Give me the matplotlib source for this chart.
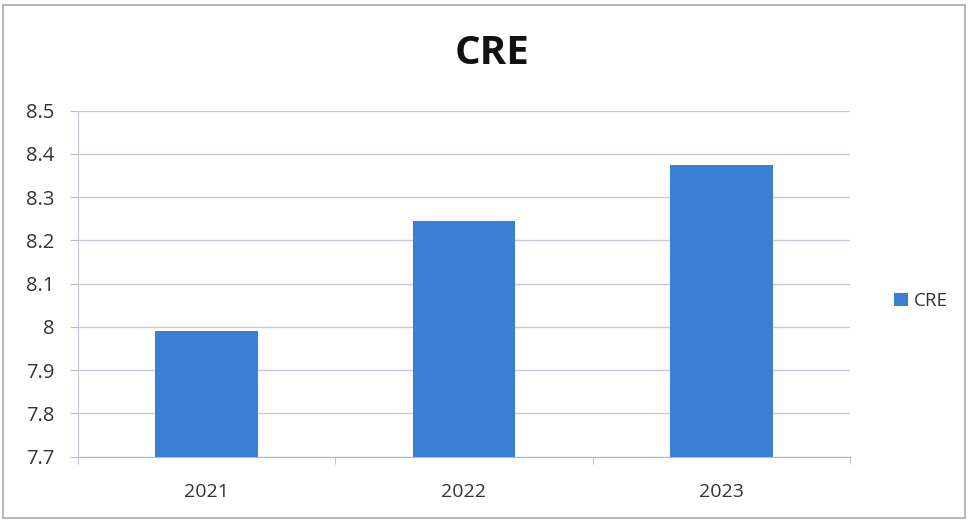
import matplotlib.pyplot as plt
from matplotlib.patches import Rectangle
import numpy as np

categories = ["2021", "2022", "2023"]
cre_values = [7.99, 8.245, 8.375]
series_name = "CRE"
y_ticks = [7.7, 7.8, 7.9, 8.0, 8.1, 8.2, 8.3, 8.4, 8.5]
y_tick_labels = ["7.7", "7.8", "7.9", "8", "8.1", "8.2", "8.3", "8.4", "8.5"]

plt.rcParams['font.family'] = ['Open Sans', 'DejaVu Sans']

fig = plt.figure(figsize=(9.68, 5.21), dpi=100)
fig.patch.set_facecolor('white')

# chart area border
fig.patches.append(Rectangle((3 / 968, 3 / 521), 1 - 6 / 968, 1 - 8 / 521,
                             transform=fig.transFigure, fill=False,
                             edgecolor='#a8a8b0', linewidth=1.2))

ax = fig.add_axes([78 / 968, 1 - 456.7 / 521, (850 - 78) / 968, (456.7 - 110.7) / 521])

bar_color = '#3a7fd6'
x = np.arange(len(categories))
ax.bar(x, [v - 7.7 for v in cre_values], bottom=7.7, width=0.4,
       color=bar_color, label=series_name, zorder=3)

ax.set_xlim(-0.5, len(categories) - 0.5)
ax.set_ylim(7.7, 8.5)
ax.set_yticks(y_ticks)
ax.set_yticklabels(y_tick_labels, fontsize=14.5, color='#333333')
ax.set_xticks(x)
ax.set_xticklabels(categories, fontsize=14, color='#333333')
ax.tick_params(axis='x', length=0, pad=19)
ax.tick_params(axis='y', length=6, color='#b8b8cc', pad=11)

# category boundary tick marks on the x axis
ax.set_xticks(np.arange(-0.5, len(categories)), minor=True)
ax.tick_params(axis='x', which='minor', length=5, color='#b8b8cc', direction='out')

ax.grid(axis='y', color='#c8c8d8', linewidth=1, zorder=0)
for side in ['top', 'right']:
    ax.spines[side].set_visible(False)
ax.spines['left'].set_color('#c8c8d8')
ax.spines['bottom'].set_color('#b8b8cc')

fig.text(492 / 968, 1 - 53 / 521, "CRE", ha='center', va='center',
         fontsize=29, fontweight='bold', color='#111111')

ax.legend(loc='center left', bbox_to_anchor=(1.035, 0.45), frameon=False,
          fontsize=13.5, handlelength=0.75, handleheight=0.75, handletextpad=0.3,
          labelcolor='#333333')

fig.savefig('out.png', dpi=100, facecolor='white')
